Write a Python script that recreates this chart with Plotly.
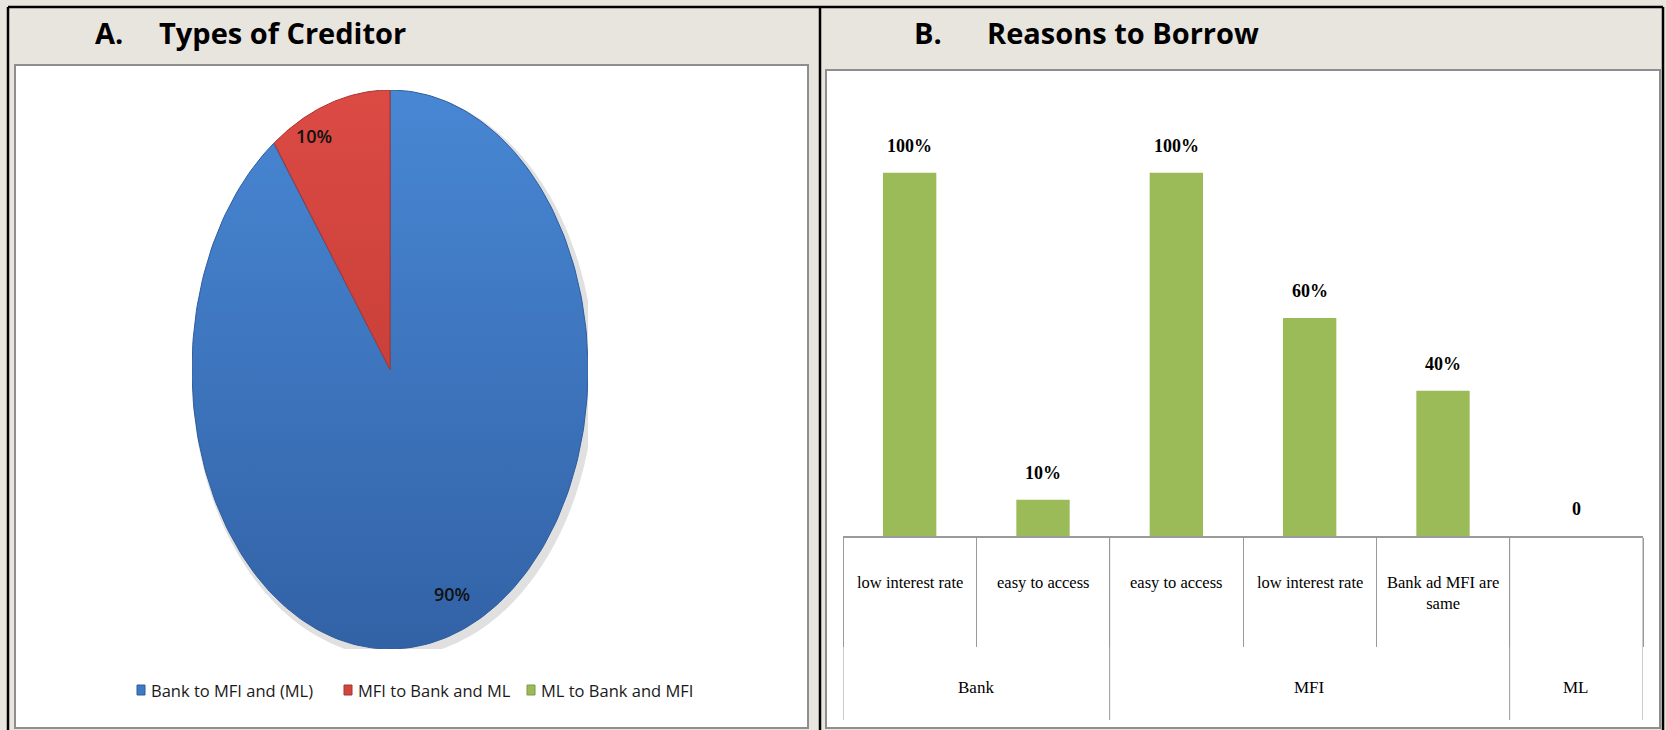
import numpy as np
import plotly.graph_objects as go

# ---- data -------------------------------------------------------------
creditor_types = ["Bank to MFI and (ML)", "MFI to Bank and ML", "ML to Bank and MFI"]
creditor_share = [90, 10, 0]
creditor_colors = ["#3f78c4", "#d0463f", "#9bbb59"]
creditor_grad = [("#3262a6", "#4887d4"), ("#b8362f", "#dc4a44"), ("#86a84a", "#aacb6b")]
creditor_edge = ["#2f5c9c", "#a8352f", "#7a9a40"]

reason_groups = ["Bank", "Bank", "MFI", "MFI", "MFI", "ML"]
reason_labels = ["low interest rate", "easy to access", "easy to access",
                 "low interest rate", "Bank ad MFI are<br>same", ""]
reason_share = [100, 10, 100, 60, 40, 0]
reason_text = ["100%", "10%", "100%", "60%", "40%", "0"]
bar_color = "#9bbb59"

# ---- page geometry helpers (pixel -> paper) -----------------------------
W, H = 1666, 730


def px(x):
    return x / W


def py(y):
    return 1 - y / H


fig = go.Figure()

# ---- panel A: elliptical pie drawn on a unit circle ----------------------
total = sum(creditor_share)
start = 0.0
label_pos = []
for name, v, grad, edge in zip(creditor_types, creditor_share, creditor_grad, creditor_edge):
    sweep = v / total * 2 * np.pi
    if v > 0:
        theta = np.linspace(start, start + sweep, 240)
        xs = np.concatenate([[0], np.sin(theta), [0]])
        ys = np.concatenate([[0], np.cos(theta), [0]])
        fig.add_trace(go.Scatter(
            x=xs, y=ys, mode="lines", fill="toself",
            fillgradient=dict(type="vertical", start=-1, stop=1,
                              colorscale=[[0, grad[0]], [1, grad[1]]]),
            line=dict(color=edge, width=1),
            name=name, showlegend=False, hoverinfo="name",
            xaxis="x", yaxis="y",
        ))
        mid = start + sweep / 2
        label_pos.append((v, 0.88 * np.sin(mid), 0.88 * np.cos(mid)))
    start += sweep

annotations = []
for v, lx, ly in label_pos:
    annotations.append(dict(
        x=lx, y=ly, xref="x", yref="y", text=f"{v}%", showarrow=False,
        xshift=-22 if v < 50 else 8, yshift=0 if v < 50 else 9,
        font=dict(family="Open Sans", size=18, color="#111111", weight=600),
    ))

# legend for the pie
legend_x = [141, 348, 531]
for name, color, edge, lx in zip(creditor_types, creditor_colors, creditor_edge, legend_x):
    annotations.append(dict(
        x=px(lx + 8), y=py(690), xref="paper", yref="paper", xanchor="left",
        yanchor="middle", text=name, showarrow=False,
        font=dict(family="Open Sans", size=16.5, color="#1a1a1a"),
    ))

# ---- panel B: grouped bar chart ------------------------------------------
idx = list(range(len(reason_share)))
fig.add_trace(go.Bar(
    x=idx, y=reason_share, width=0.4, marker=dict(color=bar_color, line=dict(width=0)),
    xaxis="x2", yaxis="y2", showlegend=False, hovertext=reason_text,
))

for i, (v, t) in enumerate(zip(reason_share, reason_text)):
    annotations.append(dict(
        x=i, y=v, xref="x2", yref="y2", text=f"<b>{t}</b>", showarrow=False,
        yanchor="middle", yshift=27,
        font=dict(family="Liberation Serif", size=18, color="#000000"),
    ))

for i, lab in enumerate(reason_labels):
    if lab:
        annotations.append(dict(
            x=i, y=py(571), xref="x2", yref="paper", text=lab, showarrow=False,
            yanchor="top", align="center",
            font=dict(family="Liberation Serif", size=16.5, color="#000000"),
        ))

# group labels and group boundaries
groups = []
for i, g in enumerate(reason_groups):
    if not groups or groups[-1][0] != g:
        groups.append([g, i, i])
    else:
        groups[-1][2] = i
group_edges = [-0.5] + [g[2] + 0.5 for g in groups]
for g, a, b in groups:
    annotations.append(dict(
        x=(a + b) / 2, y=py(687), xref="x2", yref="paper", text=g, showarrow=False,
        yanchor="middle", font=dict(family="Liberation Serif", size=17, color="#000000"),
    ))

# ---- titles ---------------------------------------------------------------
title_font = dict(family="Open Sans", size=29, color="#000000")
for txt, x in [("<b>A.</b>", 93), ("<b>Types of Creditor</b>", 157),
               ("<b>B.</b>", 912), ("<b>Reasons to Borrow</b>", 985)]:
    annotations.append(dict(
        x=px(x), y=py(32), xref="paper", yref="paper", xanchor="left",
        yanchor="middle", text=txt, showarrow=False, font=title_font,
    ))

# ---- frames, boxes, legend swatches --------------------------------------
shapes = [
    # white chart boxes
    dict(type="rect", xref="paper", yref="paper", x0=px(15), x1=px(808),
         y0=py(728), y1=py(65), fillcolor="white", line=dict(color="#8e8e8e", width=2),
         layer="below"),
    dict(type="rect", xref="paper", yref="paper", x0=px(826), x1=px(1660),
         y0=py(728), y1=py(70), fillcolor="white", line=dict(color="#8e8e8e", width=2),
         layer="below"),
    # soft shadow under the pie
    dict(type="circle", xref="x", yref="y", x0=-1.0, x1=1.035, y0=-1.03, y1=0.995,
         fillcolor="rgba(60,60,60,0.16)", line=dict(width=0), layer="below"),
]
# black page frame
for x0, y0, x1, y1 in [(8, 7, 1663, 7), (8, 7, 8, 730), (820, 7, 820, 730), (1663, 7, 1663, 730)]:
    shapes.append(dict(type="line", xref="paper", yref="paper",
                       x0=px(x0), y0=py(y0), x1=px(x1), y1=py(y1),
                       line=dict(color="#000000", width=2.5)))
# legend swatches
for color, edge, lx in zip(creditor_colors, creditor_edge, legend_x):
    shapes.append(dict(type="rect", xref="paper", yref="paper",
                       x0=px(lx - 4), x1=px(lx + 4), y0=py(695), y1=py(685),
                       fillcolor=color, line=dict(color=edge, width=1)))
# long dividers between groups on the category axis
for e in group_edges:
    shapes.append(dict(type="line", xref="x2", yref="paper", x0=e, x1=e,
                       y0=py(720), y1=py(536), line=dict(color="#9a9a9a", width=1)))

tick_bounds = [i - 0.5 for i in range(len(reason_share) + 1)]

fig.update_layout(
    width=W, height=H,
    margin=dict(l=0, r=0, t=0, b=0),
    paper_bgcolor="#e8e5df",
    plot_bgcolor="rgba(0,0,0,0)",
    showlegend=False,
    xaxis=dict(domain=[px(192), px(588)], range=[-1, 1], visible=False, fixedrange=True),
    yaxis=dict(domain=[py(649), py(90)], range=[-1, 1], visible=False, fixedrange=True),
    xaxis2=dict(domain=[px(843), px(1643)], range=[-0.5, 5.5], anchor="y2",
                showline=True, linecolor="#9a9a9a", linewidth=1.5,
                showgrid=False, zeroline=False, showticklabels=False,
                tickmode="array", tickvals=tick_bounds, ticks="outside",
                ticklen=109, tickwidth=1, tickcolor="#9a9a9a"),
    yaxis2=dict(domain=[py(536), py(100)], range=[0, 120], anchor="x2", visible=False),
    annotations=annotations,
    shapes=shapes,
    bargap=0.6,
)

fig.write_html("out.html")
